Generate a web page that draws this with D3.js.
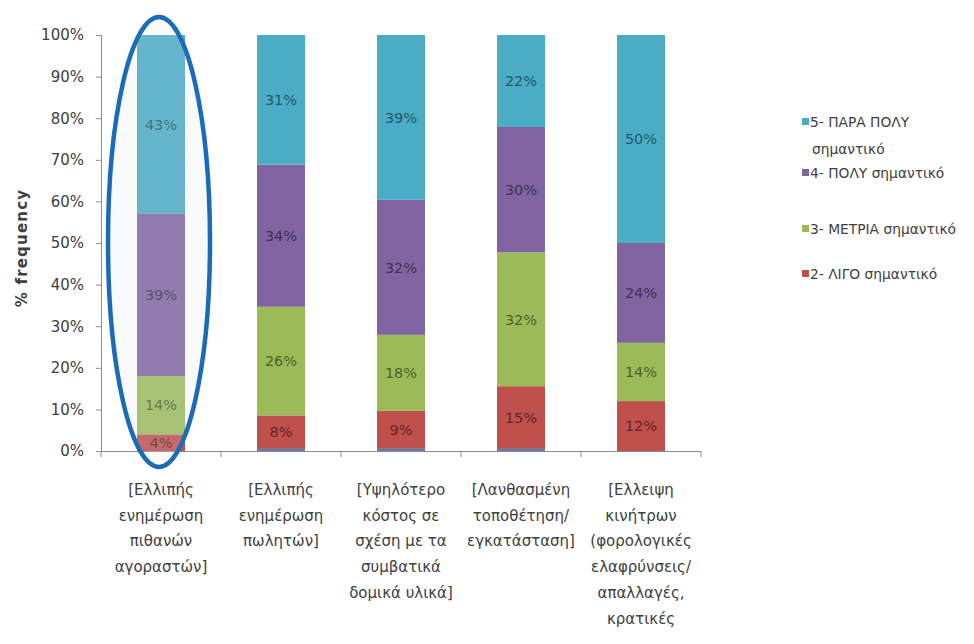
<!DOCTYPE html>
<html>
<head>
<meta charset="utf-8">
<script src="https://cdn.jsdelivr.net/npm/d3@7"></script>
<style>
  html, body { margin: 0; padding: 0; background: #ffffff; }
  svg { display: block; font-family: "DejaVu Sans", "Liberation Sans", sans-serif; }
</style>
</head>
<body>
<svg id="chart" width="974" height="644"></svg>
<script>
// Reasons (each label split into its printed lines)
const categories = [
  ["[Ελλιπής", "ενημέρωση", "πιθανών", "αγοραστών]"],
  ["[Ελλιπής", "ενημέρωση", "πωλητών]"],
  ["[Υψηλότερο", "κόστος σε", "σχέση με τα", "συμβατικά", "δομικά υλικά]"],
  ["[Λανθασμένη", "τοποθέτηση/", "εγκατάσταση]"],
  ["[Ελλειψη", "κινήτρων", "(φορολογικές", "ελαφρύνσεις/", "απαλλαγές,", "κρατικές"]
];

// Percent of answers per importance level
const level1 = [0, 0.5, 0.5, 0.5, 0];
const level2 = [4, 8, 9, 15, 12];
const level3 = [14, 26, 18, 32, 14];
const level4 = [39, 34, 32, 30, 24];
const level5 = [43, 31, 39, 22, 50];

const seriesKeys   = ["l1", "l2", "l3", "l4", "l5"];
const seriesColors = ["#4F81BD", "#C0504D", "#9BBB59", "#8064A2", "#4BACC6"];
const labelColors  = ["#243F60", "#632523", "#4F6228", "#3F3151", "#215968"];

const yTicks = [0, 0.1, 0.2, 0.3, 0.4, 0.5, 0.6, 0.7, 0.8, 0.9, 1];

const rows = categories.map((c, i) => ({
  idx: i, l1: level1[i], l2: level2[i], l3: level3[i], l4: level4[i], l5: level5[i]
}));

const svg = d3.select("#chart");

const x = d3.scaleBand().domain(d3.range(categories.length)).range([101, 701])
  .paddingInner(0.6).paddingOuter(0.3);
const y = d3.scaleLinear().domain([0, 1]).range([451, 35]);

const stack = d3.stack().keys(seriesKeys).offset(d3.stackOffsetExpand);
const stacked = stack(rows);

// Bars
const layers = svg.append("g").selectAll("g").data(stacked).join("g")
  .attr("fill", (d, i) => seriesColors[i]);

layers.selectAll("rect").data(d => d).join("rect")
  .attr("x", d => x(d.data.idx))
  .attr("width", x.bandwidth())
  .attr("y", d => y(d[1]))
  .attr("height", d => Math.max(0, y(d[0]) - y(d[1])));

// Value labels (levels 2–5)
stacked.forEach((layer, si) => {
  if (si === 0) return;
  svg.append("g").selectAll("text").data(layer).join("text")
    .attr("x", d => x(d.data.idx) + x.bandwidth() / 2)
    .attr("y", d => (y(d[0]) + y(d[1])) / 2)
    .attr("dy", "0.36em")
    .attr("text-anchor", "middle")
    .attr("font-size", 14.5)
    .attr("fill", labelColors[si])
    .text(d => d.data[seriesKeys[si]] + "%");
});

// Y axis
const yAxis = d3.axisLeft(y).tickValues(yTicks).tickFormat(d3.format(".0%"))
  .tickSize(5).tickPadding(12);
const gy = svg.append("g").attr("transform", "translate(101,0)").call(yAxis);
gy.select(".domain").attr("stroke", "#8c8c8c");
gy.selectAll(".tick line").attr("stroke", "#8c8c8c");
gy.selectAll(".tick text").attr("font-size", 15).attr("fill", "#404040")
  .attr("font-family", "DejaVu Sans, sans-serif");

// X axis baseline with ticks between categories
const xEdges = d3.range(categories.length + 1).map(i => 101 + i * x.step());
svg.append("line").attr("x1", 101).attr("x2", 701).attr("y1", 451.5).attr("y2", 451.5)
  .attr("stroke", "#8c8c8c");
svg.append("g").selectAll("line").data(xEdges).join("line")
  .attr("x1", d => d).attr("x2", d => d).attr("y1", 451).attr("y2", 457)
  .attr("stroke", "#8c8c8c");

// Category labels
const catG = svg.append("g").selectAll("text").data(categories).join("text")
  .attr("text-anchor", "middle")
  .attr("font-size", 15)
  .attr("fill", "#404040")
  .attr("transform", (d, i) => `translate(${x(i) + x.bandwidth() / 2},495)`);
catG.selectAll("tspan").data(d => d).join("tspan")
  .attr("x", 0)
  .attr("y", (d, i) => i * 25.7)
  .text(d => d);

// Y axis title
svg.append("text")
  .attr("transform", "translate(27,248) rotate(-90)")
  .attr("text-anchor", "middle")
  .attr("font-size", 15)
  .attr("font-weight", "bold")
  .attr("letter-spacing", 1.2)
  .attr("fill", "#404040")
  .text("% frequency");

// Legend (levels 5 down to 2)
const legendItems = [
  { si: 4, lines: ["5- ΠΑΡΑ ΠΟΛΥ", "σημαντικό"], y: 118 },
  { si: 3, lines: ["4- ΠΟΛΥ σημαντικό"], y: 169 },
  { si: 2, lines: ["3- ΜΕΤΡΙΑ σημαντικό"], y: 225 },
  { si: 1, lines: ["2- ΛΙΓΟ σημαντικό"], y: 270 }
];
const lg = svg.append("g").selectAll("g").data(legendItems).join("g")
  .attr("transform", d => `translate(802,${d.y})`);
lg.append("rect").attr("width", 7).attr("height", 7)
  .attr("fill", d => seriesColors[d.si]);
const lt = lg.append("text").attr("font-size", 13.8).attr("fill", "#404040");
lt.selectAll("tspan").data(d => d.lines).join("tspan")
  .attr("x", (d, i) => i === 0 ? 8 : 10)
  .attr("y", (d, i) => 8.5 + i * 27)
  .text(d => d);

// Highlight ring around the first reason
svg.append("ellipse")
  .attr("cx", x(0) + x.bandwidth() / 2 - 2)
  .attr("cy", 242)
  .attr("rx", 51)
  .attr("ry", 225)
  .attr("fill", "#dbe5f1")
  .attr("fill-opacity", 0.18)
  .attr("stroke", "#1B6CB8")
  .attr("stroke-width", 4.5);
</script>
</body>
</html>
